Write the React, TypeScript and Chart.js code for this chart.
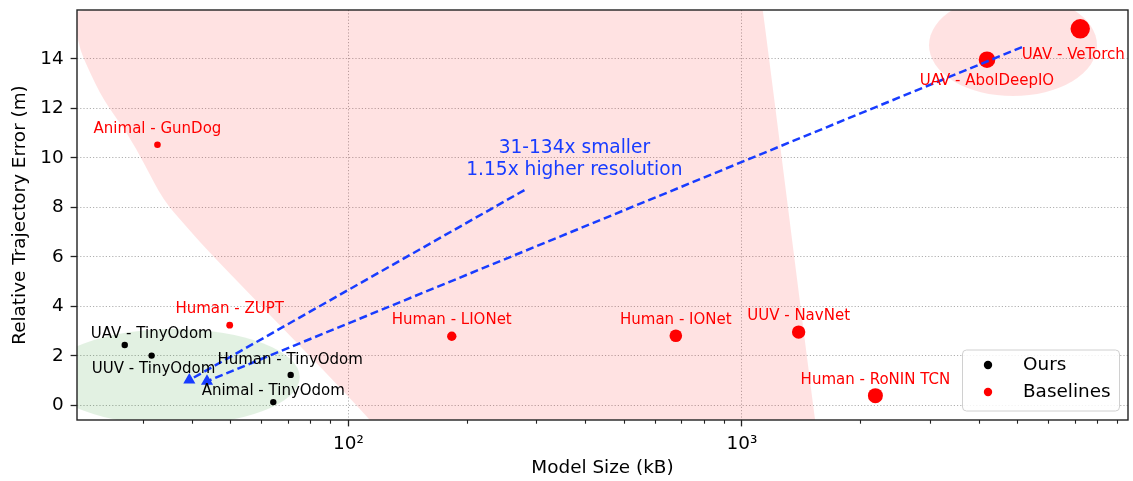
import React, { useEffect, useRef } from 'react';
import { Chart, registerables } from 'chart.js';

Chart.register(...registerables);

// ---- data ----
const oursLabels = ['UAV - TinyOdom', 'UUV - TinyOdom', 'Human - TinyOdom', 'Animal - TinyOdom'];
const oursSizeKB = [27.0, 31.6, 71.3, 64.4];
const oursError = [2.44, 2.01, 1.23, 0.13];

const baselineLabels = [
  'Animal - GunDog', 'Human - ZUPT', 'Human - LIONet', 'Human - IONet',
  'UUV - NavNet', 'Human - RoNIN TCN', 'UAV - AbolDeepIO', 'UAV - VeTorch',
];
const baselineSizeKB = [32.7, 49.9, 183, 679, 1393, 2183, 4194, 7238];
const baselineError = [10.53, 3.24, 2.79, 2.81, 2.96, 0.39, 13.97, 15.22];

// dashed arrows: [start, end] in (kB, m)
const arrow1KB = [280, 39.4];
const arrow1M = [8.7, 1.02];
const arrow2KB = [5148, 43.7];
const arrow2M = [14.48, 0.97];

const annotationLines = ['31-134x smaller', '1.15x higher resolution'];
const annotationKB = 375;
const annotationM = 10;

const xTickValues = [30, 40, 50, 60, 70, 80, 90, 100, 200, 300, 400, 500, 600, 700, 800, 900, 1000, 2000, 3000, 4000, 5000, 6000, 7000, 8000, 9000];
const xTickLabels: Record<number, string> = { 100: '10²', 1000: '10³' };
const yTickValues = [0, 2, 4, 6, 8, 10, 12, 14];

// shaded regions (data coordinates)
const wideRegionKB = [19.6, 20.3, 20.8, 21.7, 23.8, 27.4, 30.4, 33.8, 38.4, 43.7, 62.1, 91.3, 113.4, 120.3, 1551, 1532, 1131, 1118];
const wideRegionM = [16.38, 15.17, 14.36, 13.67, 12.34, 11.01, 9.71, 8.3, 7.29, 6.28, 3.77, 1.02, -0.59, -1.08, -1.08, -0.59, 15.98, 16.38];
const oursRegionKB = [17.2, 75.2];
const oursRegionM = [-0.8, 3.08];
const topRegionKB = [2987, 7985];
const topRegionM = [12.5, 16.62];

// ---- styles ----
const FONT = '"DejaVu Sans", sans-serif';
const BLUE = 'rgb(24, 60, 255)';
const RED = '#ff0000';
const baselineRadius = [3.3, 3.4, 4.7, 6.3, 6.7, 7.5, 8.3, 9.7];
const oursRadius = 3.2;
const oursLabelOffsets = [[27, -11], [2, 13.5], [-0.5, -15], [0, -10.5]];
const baselineLabelOffsets = [[0, -16], [0, -16.3], [0, -16.3], [0, -16], [0, -15.6], [0, -15.6], [0, 21.5], [-7, 26]];

const regionPlugin = {
  id: 'regions',
  beforeDatasetsDraw(chart: any) {
    const { ctx, chartArea: a, scales } = chart;
    const x = scales.x, y = scales.y;
    ctx.save();
    ctx.beginPath();
    ctx.rect(a.left, a.top, a.right - a.left, a.bottom - a.top);
    ctx.clip();
    const pts = wideRegionKB.map((v, i) => [x.getPixelForValue(v), y.getPixelForValue(wideRegionM[i])]);
    const n = pts.length;
    const mid = (p: number[], q: number[]) => [(p[0] + q[0]) / 2, (p[1] + q[1]) / 2];
    ctx.fillStyle = 'rgba(255, 0, 0, 0.115)';
    ctx.beginPath();
    const m0 = mid(pts[n - 1], pts[0]);
    ctx.moveTo(m0[0], m0[1]);
    for (let i = 0; i < n; i++) {
      const m = mid(pts[i], pts[(i + 1) % n]);
      ctx.quadraticCurveTo(pts[i][0], pts[i][1], m[0], m[1]);
    }
    ctx.closePath();
    ctx.fill();
    const ell = (kb: number[], m: number[], color: string) => {
      const x0 = x.getPixelForValue(kb[0]);
      const x1 = x.getPixelForValue(kb[1]);
      const y0 = y.getPixelForValue(m[0]);
      const y1 = y.getPixelForValue(m[1]);
      ctx.fillStyle = color;
      ctx.beginPath();
      ctx.ellipse((x0 + x1) / 2, (y0 + y1) / 2, Math.abs(x1 - x0) / 2, Math.abs(y1 - y0) / 2, 0, 0, Math.PI * 2);
      ctx.fill();
    };
    ell(oursRegionKB, oursRegionM, 'rgba(0, 128, 0, 0.115)');
    ell(topRegionKB, topRegionM, 'rgba(255, 0, 0, 0.115)');
    ctx.restore();
  },
};

const overlayPlugin = {
  id: 'overlay',
  afterDatasetsDraw(chart: any) {
    const { ctx, scales } = chart;
    const x = scales.x, y = scales.y;
    ctx.save();
    ctx.font = `15px ${FONT}`;
    ctx.textAlign = 'center';
    ctx.textBaseline = 'middle';
    const drawLabels = (dsIndex: number, labels: string[], offs: number[][], color: string) => {
      const meta = chart.getDatasetMeta(dsIndex);
      ctx.fillStyle = color;
      labels.forEach((t, i) => {
        const el = meta.data[i];
        ctx.fillText(t, el.x + offs[i][0], el.y + offs[i][1]);
      });
    };
    drawLabels(0, oursLabels, oursLabelOffsets, '#000');
    drawLabels(1, baselineLabels, baselineLabelOffsets, RED);
    ctx.font = `18.6px ${FONT}`;
    ctx.fillStyle = BLUE;
    const ax = x.getPixelForValue(annotationKB);
    const ay = y.getPixelForValue(annotationM);
    const lh = 21.7;
    annotationLines.forEach((t, i) => {
      ctx.fillText(t, ax, ay + 1 + (i - (annotationLines.length - 1) / 2) * lh);
    });
    ctx.restore();
  },
  afterDraw(chart: any) {
    const { ctx, chartArea: a, scales } = chart;
    const x = scales.x;
    ctx.save();
    ctx.strokeStyle = '#222';
    ctx.lineWidth = 1.1;
    xTickValues.forEach((v) => {
      if (xTickLabels[v]) return;
      const px = Math.round(x.getPixelForValue(v)) + 0.5;
      ctx.beginPath();
      ctx.moveTo(px, a.bottom);
      ctx.lineTo(px, a.bottom + 3.7);
      ctx.stroke();
    });
    ctx.lineWidth = 1.4;
    ctx.strokeStyle = '#222';
    ctx.strokeRect(a.left, a.top, a.right - a.left, a.bottom - a.top);
    const w = 157, h = 61;
    const lx = a.right - 9 - w;
    const ly = a.bottom - 9.5 - h;
    ctx.fillStyle = 'rgba(255,255,255,0.85)';
    ctx.strokeStyle = '#d0d0d0';
    ctx.lineWidth = 1;
    ctx.beginPath();
    ctx.roundRect(lx + 0.5, ly + 0.5, w, h, 4);
    ctx.fill();
    ctx.stroke();
    const items = [
      { text: chart.data.datasets[0].label, color: '#000' },
      { text: chart.data.datasets[1].label, color: RED },
    ];
    ctx.font = `18.4px ${FONT}`;
    ctx.textAlign = 'left';
    ctx.textBaseline = 'middle';
    items.forEach((it, i) => {
      const cy = ly + 15.5 + i * 27;
      ctx.fillStyle = it.color;
      ctx.beginPath();
      ctx.arc(lx + 26, cy, 4.2, 0, Math.PI * 2);
      ctx.fill();
      ctx.fillStyle = '#000';
      ctx.fillText(it.text, lx + 61, cy);
    });
    ctx.restore();
  },
};

const zeroPad = (s: any) => {
  s.paddingTop = 0;
  s.paddingBottom = 0;
  s.paddingLeft = 0;
  s.paddingRight = 0;
};

export default function App() {
  const ref = useRef<HTMLCanvasElement>(null);
  useEffect(() => {
    document.body.style.margin = '0';
    const canvas = ref.current!;
    const toPts = (xs: number[], ys: number[]) => xs.map((v, i) => ({ x: v, y: ys[i] }));
    const arrowStyle = {
      showLine: true,
      borderColor: BLUE,
      backgroundColor: BLUE,
      borderWidth: 2.5,
      borderDash: [8, 4],
      pointStyle: 'triangle',
      pointRadius: [0, 7],
      pointBorderWidth: 0,
      order: 1,
    };
    const chart = new Chart(canvas, {
      type: 'scatter',
      data: {
        datasets: [
          {
            label: 'Ours',
            data: toPts(oursSizeKB, oursError),
            backgroundColor: '#000',
            pointRadius: oursRadius,
            pointBorderWidth: 0,
            order: 2,
          },
          {
            label: 'Baselines',
            data: toPts(baselineSizeKB, baselineError),
            backgroundColor: RED,
            pointRadius: baselineRadius,
            pointBorderWidth: 0,
            order: 3,
          },
          { label: 'arrow1', data: toPts(arrow1KB, arrow1M), ...arrowStyle },
          { label: 'arrow2', data: toPts(arrow2KB, arrow2M), ...arrowStyle },
        ],
      } as any,
      options: {
        responsive: false,
        maintainAspectRatio: false,
        animation: false,
        devicePixelRatio: 1,
        layout: { autoPadding: false, padding: { top: 10, right: 5, left: 0, bottom: 0 } },
        plugins: { legend: { display: false }, tooltip: { enabled: false } },
        scales: {
          x: {
            type: 'logarithmic',
            min: 20.42,
            max: 9572,
            afterBuildTicks: (s: any) => { s.ticks = xTickValues.map((v) => ({ value: v })); },
            afterFit: (s: any) => { s.height = 61; zeroPad(s); },
            ticks: {
              autoSkip: false,
              maxRotation: 0,
              minRotation: 0,
              padding: 6.5,
              color: '#000',
              font: { family: FONT, size: 18.4 },
              callback: (v: any) => xTickLabels[Number(v)] || '',
            },
            grid: {
              color: (c: any) => (c.tick && xTickLabels[c.tick.value] ? '#b0b0b0' : 'rgba(0,0,0,0)'),
              tickColor: (c: any) => (c.tick && xTickLabels[c.tick.value] ? '#222' : 'rgba(0,0,0,0)'),
              tickLength: 6.4,
              tickWidth: 1.3,
              lineWidth: 1,
              tickBorderDash: [],
            },
            border: { display: false, dash: [1.2, 2] },
            title: {
              display: true,
              text: 'Model Size (kB)',
              color: '#000',
              font: { family: FONT, size: 18.4 },
              padding: { top: 0, bottom: 1.5 },
            },
          },
          y: {
            type: 'linear',
            min: -0.594,
            max: 15.98,
            afterBuildTicks: (s: any) => { s.ticks = yTickValues.map((v) => ({ value: v })); },
            afterFit: (s: any) => { s.width = 77; zeroPad(s); },
            ticks: {
              padding: 7,
              color: '#000',
              font: { family: FONT, size: 18.4 },
            },
            grid: {
              color: '#b0b0b0',
              tickColor: '#222',
              tickLength: 6.4,
              tickWidth: 1.3,
              lineWidth: 1,
              tickBorderDash: [],
            },
            border: { display: false, dash: [1.2, 2] },
            title: {
              display: true,
              text: 'Relative Trajectory Error (m)',
              color: '#000',
              font: { family: FONT, size: 18.4 },
              padding: { top: 9.5, bottom: 0 },
            },
          },
        },
      },
      plugins: [regionPlugin, overlayPlugin],
    });
    return () => chart.destroy();
  }, []);
  return (
    <div style={{ width: 1133, height: 481 }}>
      <canvas ref={ref} width={1133} height={481} />
    </div>
  );
}
